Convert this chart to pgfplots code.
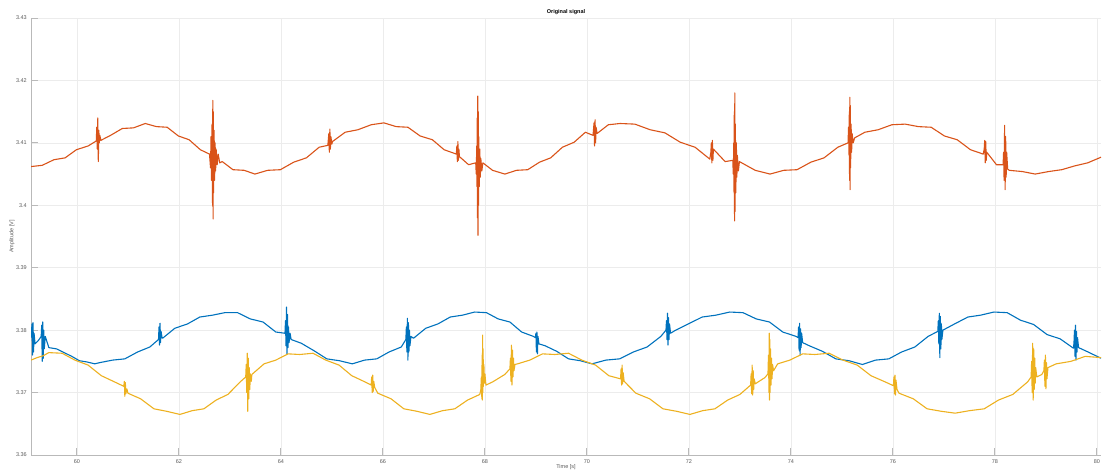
\documentclass[border=0pt]{standalone}
\usepackage{fontspec}
\setmainfont{Liberation Sans}
\usepackage{pgfplots}
\pgfplotsset{compat=1.18}
\usepackage{pgfplotstable}
\definecolor{mblue}{rgb}{0,0.447,0.741}
\definecolor{mred}{rgb}{0.85,0.325,0.098}
\definecolor{myellow}{rgb}{0.929,0.694,0.125}

\pgfplotstableread{
t v
59.10 3.4062
59.32 3.4064
59.55 3.4073
59.77 3.4076
59.99 3.4089
60.22 3.4095
60.38 3.4103
60.39 3.4125
60.40 3.4090
60.41 3.4140
60.42 3.4070
60.43 3.4120
60.44 3.4100
60.45 3.4112
60.47 3.4104
60.66 3.4112
60.89 3.4123
61.11 3.4124
61.34 3.4131
61.56 3.4126
61.77 3.4125
61.99 3.4111
62.20 3.4105
62.42 3.4089
62.60 3.4082
62.62 3.4060
62.63 3.4110
62.64 3.4040
62.65 3.4130
62.66 3.4000
62.665 3.4168
62.67 3.3978
62.675 3.4150
62.68 3.4020
62.69 3.4120
62.70 3.4040
62.71 3.4100
62.72 3.4055
62.73 3.4090
62.75 3.4065
62.77 3.4082
62.80 3.4068
62.85 3.4070
63.06 3.4057
63.28 3.4056
63.49 3.4050
63.74 3.4056
63.99 3.4057
64.25 3.4069
64.50 3.4076
64.75 3.4093
64.92 3.4096
64.94 3.4115
64.95 3.4085
64.96 3.4122
64.97 3.4090
64.98 3.4110
65.00 3.4098
65.01 3.4102
65.26 3.4117
65.51 3.4121
65.77 3.4129
66.02 3.4132
66.26 3.4126
66.49 3.4125
66.73 3.4111
66.97 3.4105
67.20 3.4089
67.44 3.4082
67.45 3.4095
67.46 3.4070
67.47 3.4102
67.48 3.4072
67.49 3.4090
67.50 3.4078
67.68 3.4065
67.82 3.4068
67.83 3.4050
67.84 3.4095
67.845 3.4030
67.85 3.4140
67.855 3.3980
67.86 3.4175
67.865 3.3952
67.87 3.4150
67.875 3.4000
67.88 3.4110
67.89 3.4030
67.90 3.4090
67.91 3.4045
67.92 3.4075
67.94 3.4055
67.96 3.4068
68.15 3.4056
68.39 3.4050
68.62 3.4056
68.84 3.4057
69.07 3.4069
69.29 3.4076
69.52 3.4093
69.75 3.4101
69.97 3.4117
70.12 3.4112
70.14 3.4132
70.15 3.4095
70.16 3.4137
70.17 3.4100
70.18 3.4125
70.20 3.4115
70.42 3.4129
70.65 3.4131
70.94 3.4130
71.24 3.4121
71.53 3.4116
71.83 3.4101
72.12 3.4093
72.41 3.4074
72.43 3.4085
72.44 3.4100
72.45 3.4068
72.46 3.4104
72.47 3.4072
72.48 3.4090
72.71 3.4070
72.86 3.4072
72.87 3.4050
72.88 3.4100
72.885 3.4020
72.89 3.4150
72.895 3.3975
72.90 3.4180
72.905 3.3990
72.91 3.4130
72.92 3.4020
72.93 3.4100
72.94 3.4045
72.95 3.4080
72.97 3.4055
72.99 3.4070
73.30 3.4056
73.59 3.4050
73.86 3.4056
74.12 3.4057
74.39 3.4069
74.65 3.4076
74.92 3.4093
75.12 3.4100
75.13 3.4125
75.14 3.4080
75.145 3.4150
75.15 3.4040
75.155 3.4173
75.16 3.4025
75.165 3.4160
75.17 3.4060
75.18 3.4130
75.19 3.4085
75.20 3.4115
75.22 3.4100
75.25 3.4108
75.45 3.4117
75.71 3.4121
75.98 3.4129
76.24 3.4130
76.50 3.4126
76.75 3.4125
77.01 3.4111
77.26 3.4105
77.52 3.4089
77.77 3.4082
77.79 3.4090
77.80 3.4104
77.81 3.4068
77.82 3.4102
77.83 3.4072
77.84 3.4085
78.03 3.4065
78.16 3.4065
78.17 3.4085
78.18 3.4040
78.19 3.4128
78.20 3.4025
78.21 3.4110
78.22 3.4045
78.23 3.4085
78.25 3.4058
78.28 3.4056
78.54 3.4054
78.79 3.4050
79.05 3.4054
79.31 3.4057
79.56 3.4063
79.82 3.4068
80.08 3.4077
}\redtab

\pgfplotstableread{
t v
59.10 3.3788
59.12 3.3810
59.13 3.3760
59.14 3.3812
59.15 3.3765
59.16 3.3795
59.18 3.3778
59.25 3.3784
59.30 3.3790
59.31 3.3808
59.32 3.3750
59.33 3.3813
59.34 3.3755
59.35 3.3800
59.36 3.3770
59.38 3.3790
59.45 3.3772
59.60 3.3770
59.75 3.3764
59.90 3.3758
60.05 3.3751
60.20 3.3749
60.35 3.3746
60.45 3.3748
60.70 3.3752
60.94 3.3754
61.19 3.3765
61.43 3.3773
61.60 3.3785
61.61 3.3805
61.62 3.3776
61.63 3.3811
61.64 3.3780
61.65 3.3798
61.67 3.3788
61.68 3.3787
61.92 3.3803
62.17 3.3810
62.41 3.3821
62.66 3.3824
62.90 3.3828
63.15 3.3828
63.40 3.3818
63.65 3.3813
63.90 3.3797
64.08 3.3795
64.09 3.3815
64.10 3.3775
64.11 3.3837
64.12 3.3762
64.13 3.3825
64.14 3.3772
64.15 3.3805
64.16 3.3780
64.18 3.3795
64.20 3.3785
64.40 3.3779
64.65 3.3767
64.90 3.3754
65.15 3.3751
65.40 3.3746
65.64 3.3752
65.88 3.3754
66.12 3.3765
66.36 3.3773
66.45 3.3785
66.46 3.3805
66.47 3.3765
66.48 3.3819
66.49 3.3752
66.50 3.3812
66.51 3.3765
66.52 3.3800
66.53 3.3775
66.55 3.3790
66.60 3.3787
66.84 3.3803
67.08 3.3810
67.32 3.3821
67.56 3.3824
67.80 3.3829
68.03 3.3828
68.26 3.3818
68.49 3.3813
68.72 3.3797
68.95 3.3790
68.99 3.3788
69.00 3.3795
69.01 3.3765
69.02 3.3797
69.03 3.3762
69.04 3.3790
69.06 3.3778
69.18 3.3775
69.41 3.3766
69.64 3.3754
69.87 3.3751
70.10 3.3746
70.37 3.3752
70.64 3.3754
70.91 3.3765
71.18 3.3773
71.45 3.3790
71.55 3.3800
71.56 3.3815
71.57 3.3785
71.58 3.3827
71.59 3.3776
71.60 3.3820
71.61 3.3785
71.62 3.3810
71.64 3.3795
71.72 3.3799
71.99 3.3810
72.26 3.3821
72.53 3.3824
72.80 3.3829
73.06 3.3828
73.32 3.3818
73.58 3.3813
73.84 3.3797
74.10 3.3790
74.14 3.3788
74.15 3.3805
74.16 3.3768
74.17 3.3811
74.18 3.3760
74.19 3.3802
74.20 3.3772
74.21 3.3795
74.23 3.3780
74.36 3.3775
74.62 3.3766
74.88 3.3754
75.14 3.3751
75.40 3.3745
75.66 3.3752
75.92 3.3754
76.17 3.3765
76.43 3.3773
76.69 3.3790
76.88 3.3798
76.89 3.3815
76.90 3.3778
76.91 3.3827
76.92 3.3756
76.93 3.3822
76.94 3.3770
76.95 3.3810
76.96 3.3785
76.98 3.3800
77.21 3.3810
77.47 3.3821
77.72 3.3824
77.98 3.3829
78.24 3.3828
78.50 3.3816
78.76 3.3809
79.02 3.3793
79.28 3.3786
79.54 3.3771
79.55 3.3780
79.56 3.3800
79.57 3.3758
79.58 3.3808
79.59 3.3752
79.60 3.3798
79.61 3.3765
79.62 3.3788
79.64 3.3772
79.80 3.3766
80.08 3.3755
}\bluetab

\pgfplotstableread{
t v
59.10 3.3752
59.22 3.3756
59.34 3.3759
59.45 3.3764
59.71 3.3763
59.96 3.3752
60.22 3.3744
60.48 3.3727
60.74 3.3717
60.92 3.3710
60.93 3.3718
60.94 3.3694
60.95 3.3716
60.96 3.3698
60.98 3.3706
61.00 3.3699
61.25 3.3690
61.51 3.3674
61.76 3.3670
62.02 3.3665
62.26 3.3671
62.49 3.3674
62.73 3.3688
62.96 3.3697
63.20 3.3717
63.31 3.3725
63.32 3.3745
63.33 3.3700
63.34 3.3763
63.35 3.3670
63.36 3.3755
63.37 3.3690
63.38 3.3740
63.39 3.3705
63.40 3.3730
63.42 3.3718
63.43 3.3729
63.67 3.3746
63.90 3.3752
64.14 3.3762
64.37 3.3761
64.63 3.3763
64.88 3.3752
65.14 3.3744
65.39 3.3727
65.65 3.3717
65.77 3.3712
65.78 3.3725
65.79 3.3700
65.80 3.3728
65.81 3.3702
65.82 3.3718
65.84 3.3708
65.90 3.3699
66.16 3.3690
66.41 3.3674
66.67 3.3670
66.92 3.3665
67.17 3.3671
67.41 3.3674
67.66 3.3688
67.90 3.3697
67.92 3.3705
67.93 3.3725
67.94 3.3690
67.945 3.3760
67.95 3.3688
67.955 3.3792
67.96 3.3700
67.965 3.3770
67.97 3.3710
67.98 3.3745
67.99 3.3715
68.00 3.3730
68.02 3.3712
68.15 3.3717
68.39 3.3729
68.49 3.3738
68.50 3.3755
68.51 3.3718
68.52 3.3776
68.53 3.3712
68.54 3.3768
68.55 3.3725
68.56 3.3755
68.57 3.3735
68.59 3.3745
68.64 3.3746
68.88 3.3752
69.13 3.3762
69.37 3.3761
69.64 3.3763
69.90 3.3752
70.17 3.3744
70.43 3.3727
70.66 3.3722
70.67 3.3738
70.68 3.3712
70.69 3.3744
70.70 3.3714
70.71 3.3732
70.73 3.3718
70.96 3.3699
71.23 3.3690
71.49 3.3674
71.76 3.3670
72.02 3.3665
72.27 3.3671
72.51 3.3674
72.76 3.3688
73.00 3.3697
73.21 3.3712
73.22 3.3730
73.23 3.3698
73.24 3.3744
73.25 3.3696
73.26 3.3735
73.27 3.3705
73.28 3.3722
73.30 3.3714
73.49 3.3724
73.55 3.3730
73.56 3.3760
73.57 3.3700
73.575 3.3795
73.58 3.3688
73.585 3.3785
73.59 3.3700
73.60 3.3770
73.61 3.3712
73.62 3.3755
73.63 3.3722
73.64 3.3745
73.66 3.3735
73.74 3.3746
73.98 3.3752
74.23 3.3762
74.47 3.3761
74.75 3.3763
75.02 3.3752
75.30 3.3744
75.57 3.3727
75.85 3.3717
76.01 3.3711
76.02 3.3725
76.03 3.3698
76.04 3.3728
76.05 3.3696
76.06 3.3720
76.08 3.3705
76.12 3.3699
76.40 3.3690
76.67 3.3674
76.95 3.3670
77.22 3.3667
77.50 3.3671
77.79 3.3674
78.07 3.3688
78.35 3.3697
78.64 3.3717
78.71 3.3725
78.72 3.3750
78.73 3.3700
78.74 3.3779
78.75 3.3688
78.76 3.3770
78.77 3.3705
78.78 3.3755
78.79 3.3715
78.80 3.3740
78.82 3.3725
78.92 3.3729
78.96 3.3735
78.97 3.3752
78.98 3.3710
78.99 3.3760
79.00 3.3706
79.01 3.3748
79.02 3.3722
79.04 3.3740
79.20 3.3746
79.49 3.3750
79.77 3.3758
80.08 3.3756
}\yellowtab

\begin{document}
\begin{tikzpicture}
\begin{axis}[
  scale only axis,
  width=1070pt, height=437pt,
  xmin=59.1, xmax=80.08,
  ymin=3.36, ymax=3.43,
  xtick={60,62,64,66,68,70,72,74,76,78,80},
  ytick={3.36,3.37,3.38,3.39,3.40,3.41,3.42,3.43},
  yticklabels={3.36,3.37,3.38,3.39,3.4,3.41,3.42,3.43},
  /pgf/number format/assume math mode=true,
  axis x line*=bottom, axis y line*=left,
  axis line style={-, gray!55, line width=0.9pt},
  tick align=inside,
  major tick length=7pt,
  tick style={gray!55, line width=0.9pt},
  grid=major,
  grid style={gray!15, line width=0.5pt},
  ticklabel style={font=\fontsize{5.5}{6.5}\selectfont, text=gray!70!black},
  xticklabel style={anchor=center, yshift=-7pt},
  yticklabel style={anchor=east, inner sep=0pt, xshift=-4pt},
  xlabel={Time [s]},
  ylabel={Amplitude [V]},
  label style={font=\fontsize{5.5}{6.5}\selectfont, text=gray!70!black},
  xlabel style={at={(axis description cs:0.5,-0.0275)}, anchor=center},
  ylabel style={at={(axis description cs:-0.0178,0.5)}, anchor=center, rotate=0},
  title={Original signal},
  every axis title shift=0pt,
  title style={at={(axis description cs:0.5,1.0137)}, anchor=center, font=\bfseries\fontsize{5.5}{6.5}\selectfont},
  every axis plot/.append style={line width=1.1pt, mark=none, line join=round},
]
\coordinate (BL) at (rel axis cs:0,0);
\coordinate (TR) at (rel axis cs:1,1);
\addplot[color=mblue] table[x=t,y=v] {\bluetab};
\addplot[color=mred] table[x=t,y=v] {\redtab};
\addplot[color=myellow] table[x=t,y=v] {\yellowtab};
\end{axis}
\pgfresetboundingbox
\path ([shift={(-31pt,-14pt)}]BL) rectangle ([shift={(2pt,18pt)}]TR);
\end{tikzpicture}
\end{document}
